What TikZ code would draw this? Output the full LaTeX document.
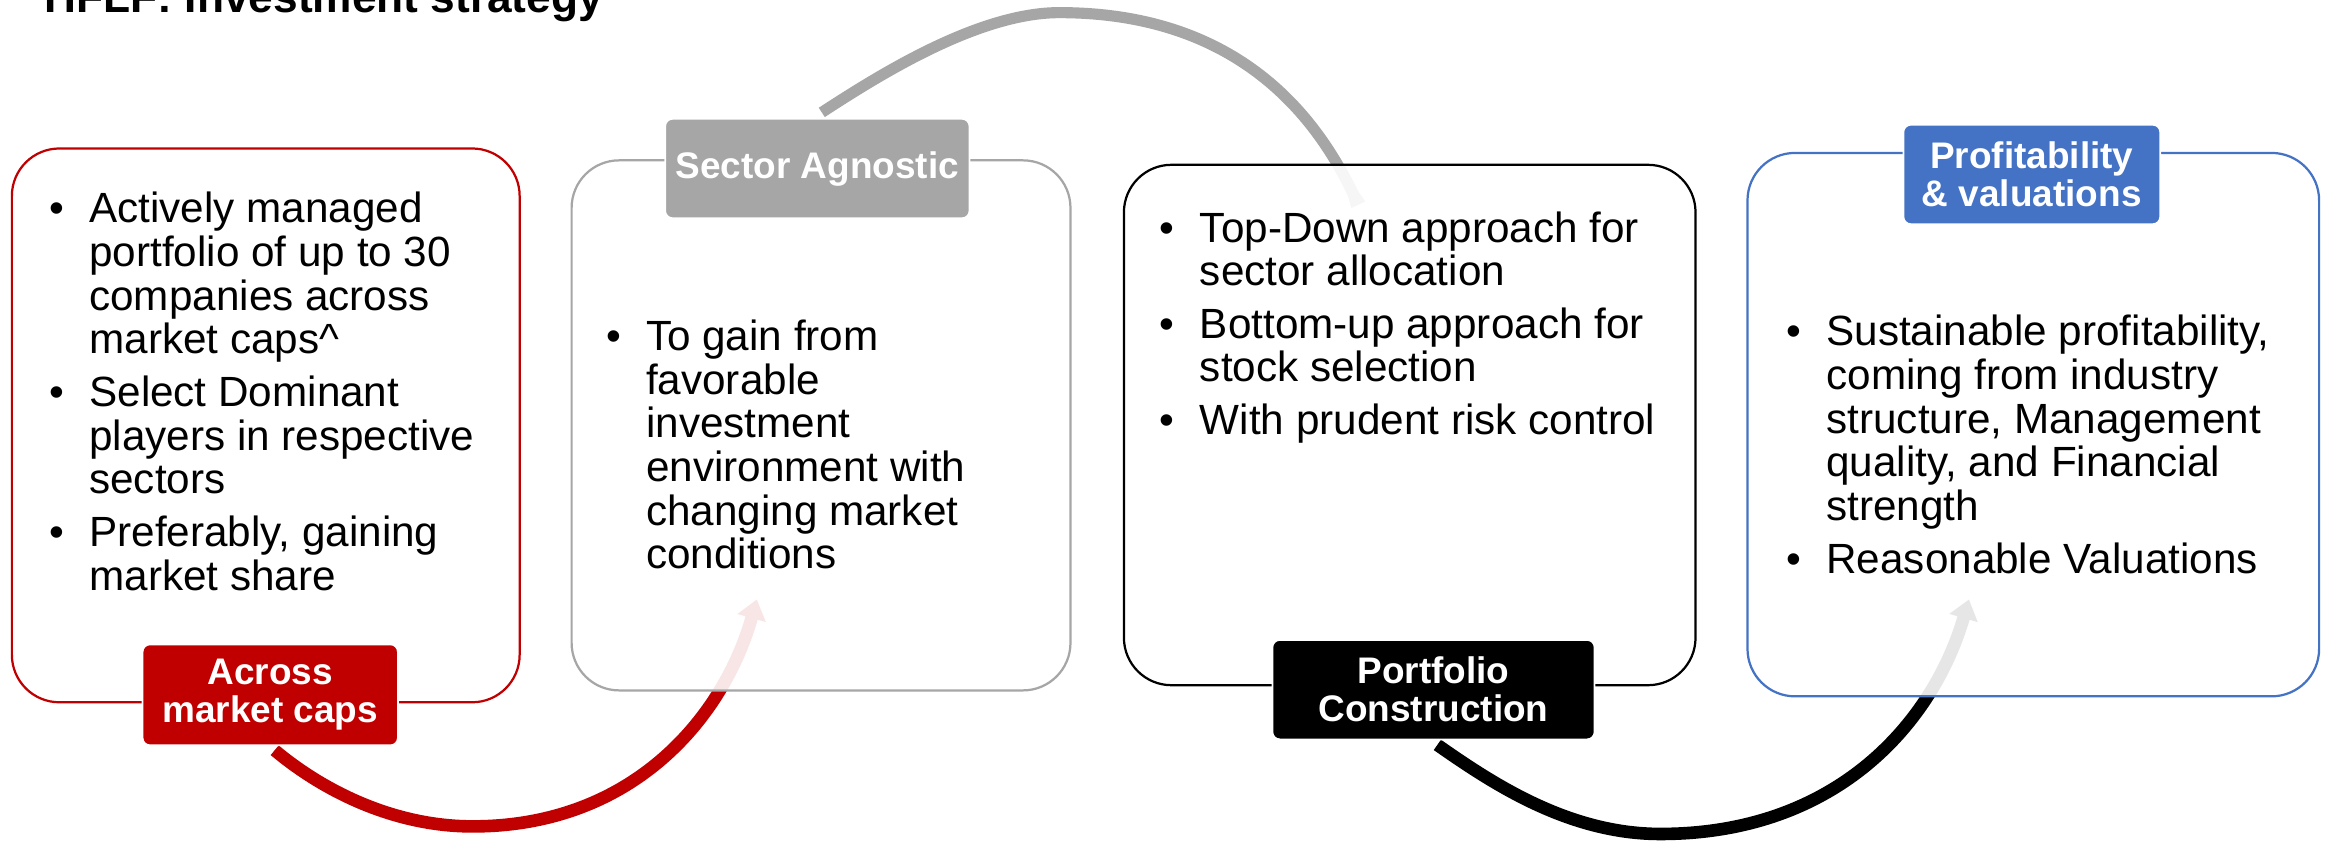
\documentclass[tikz,border=0pt]{standalone}
\usepackage{fontspec}
\setmainfont{Liberation Sans}
\usetikzlibrary{arrows.meta,calc}
\definecolor{capred}{HTML}{C00000}
\definecolor{midgray}{HTML}{A6A6A6}
\definecolor{steelblue}{HTML}{4472C4}
% bullet hung to the left of the text start
\newcommand\bitem{\leavevmode\llap{\textbullet\hspace{17pt}}}
\newcommand\bodytext[1]{\parbox[t]{400pt}{\fontsize{28.45}{29.4}\selectfont\raggedright #1}}
\pgfdeclarelayer{arcs}
\pgfsetlayers{arcs,main}

\begin{document}
\begin{tikzpicture}[x=1pt,y=-1pt,
  panel/.style={rectangle, rounded corners=32pt, fill=white, fill opacity=0.9,
    draw opacity=1, line width=1.5pt, inner sep=0pt},
  tag/.style={rectangle, rounded corners=5pt, draw=white, line width=1.2pt,
    text=white, align=center, inner sep=0pt,
    font=\bfseries\fontsize{24.9}{25.5}\selectfont},
  body/.style={anchor=base west, inner sep=0pt},
  flow/.style={line width=8.5pt},
  flowtip/.style={-{Triangle[width=19pt,length=13pt]}},
]
\useasboundingbox (0,0) rectangle (1568,566);

% stage panels
\node[panel, draw=capred, minimum width=342pt, minimum height=373pt] (b1) at (179,286.5) {};
\node[panel, draw=midgray, minimum width=336pt, minimum height=357pt] (b2) at (553,286.5) {};
\node[panel, draw=black, minimum width=385pt, minimum height=350.5pt] (b3) at (949.5,286.25) {};
\node[panel, draw=steelblue, minimum width=385pt, minimum height=366pt] (b4) at (1369.5,286) {};

% panel texts
\node[body] (t1) at (60,150) {\bodytext{%
  \bitem Actively managed\\ portfolio of up to 30\\ companies across\\ market caps\textasciicircum\\[6.3pt]
  \bitem Select Dominant\\ players in respective\\ sectors\\[6.3pt]
  \bitem Preferably, gaining\\ market share}};
\node[body] (t2) at (435,236) {\bodytext{%
  \bitem To gain from\\ favorable\\ investment\\ environment with\\ changing market\\ conditions}};
\node[body] (t3) at (808,163) {\bodytext{%
  \bitem Top-Down approach for\\ sector allocation\\[6pt]
  \bitem Bottom-up approach for\\ stock selection\\[6pt]
  \bitem With prudent risk control}};
\node[body] (t4) at (1230,233) {\bodytext{%
  \bitem Sustainable profitability,\\ coming from industry\\ structure, Management\\ quality, and Financial\\ strength\\[6.5pt]
  \bitem Reasonable Valuations}};

% stage captions
\node[tag, fill=capred, minimum width=172pt, minimum height=68pt] (l1) at (182,468) {Across\\market caps};
\node[tag, fill=midgray, minimum width=205pt, minimum height=67pt] (l2) at (550.5,113.5) {Sector Agnostic};
\node[tag, fill=black, minimum width=217pt, minimum height=67pt] (l3) at (965.5,464.5) {Portfolio\\Construction};
\node[tag, fill=steelblue, minimum width=173pt, minimum height=67pt] (l4) at (1368.5,117.5) {Profitability\\\& valuations};

% white page and curved connectors, behind the panels
\begin{pgfonlayer}{arcs}
\fill[white] (0,0) rectangle (1568,566);
\coordinate (r0) at ($(l1.south)+(3,2.7)$);
\coordinate (r1) at (318.3,556.6);
\coordinate (rtip) at ($(b2.south west)+(125.5,-62)$);
\draw[flow, capred, flowtip] (r0)
  .. controls ($(r0)+(30.6,25.7)$) and ($(r1)+(-55,0)$) .. (r1)
  .. controls ($(r1)+(110,0)$) and ($(rtip)+(-21.6,77)$) .. (rtip);

\coordinate (g0) at ($(l2.north)+(3,-3.7)$);
\coordinate (g1) at (713.5,8.5);
\coordinate (gend) at ($(b3.north west)+(172.5,57)$);
\draw[line width=7.5pt, midgray, -{Triangle[length=40pt,width=7.5pt]}] (g0)
  .. controls ($(g0)+(37.7,-24.5)$) and ($(g1)+(-55,0)$) .. (g1)
  .. controls ($(g1)+(126.5,0)$) and ($(gend)+(-38.5,-81.5)$) .. (gend);

\coordinate (k0) at ($(l3.south)+(2.6,3.1)$);
\coordinate (k1) at (1118.3,561.7);
\coordinate (ktip) at ($(b4.south west)+(149.9,-66)$);
\draw[flow, black, flowtip] (k0)
  .. controls ($(k0)+(36.9,25.8)$) and ($(k1)+(-62,0)$) .. (k1)
  .. controls ($(k1)+(120,0)$) and ($(ktip)+(-23.7,81.6)$) .. (ktip);
\end{pgfonlayer}

% heading
\node[anchor=base west, inner sep=0pt, font=\bfseries\fontsize{29.8}{32}\selectfont] (title)
  at (30,8.5) {HFLF: Investment strategy};
\end{tikzpicture}
\end{document}
